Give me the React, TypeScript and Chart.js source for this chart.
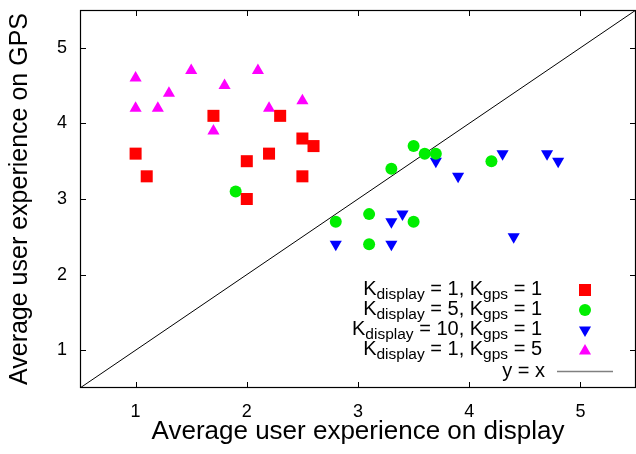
import React, { useEffect, useRef } from "react";
import { Chart, registerables } from "chart.js";
import { drawPoint } from "chart.js/helpers";

Chart.register(...registerables);

const FONT = '"Liberation Sans", Arial, Helvetica, sans-serif';

// Series: (display experience, GPS experience)
const S1_X = [1.0, 1.1, 1.7, 2.0, 2.0, 2.2, 2.3, 2.5, 2.6, 2.5];
const S1_Y = [3.6, 3.3, 4.1, 3.5, 3.0, 3.6, 4.1, 3.8, 3.7, 3.3];
const S2_X = [1.9, 3.5, 3.6, 3.7, 4.2, 3.3, 2.8, 3.1, 3.5, 3.1];
const S2_Y = [3.1, 3.7, 3.6, 3.6, 3.5, 3.4, 2.7, 2.8, 2.7, 2.4];
const S3_X = [3.7, 3.9, 4.3, 4.7, 4.8, 4.4, 3.4, 3.3, 2.8, 3.3];
const S3_Y = [3.5, 3.3, 3.6, 3.6, 3.5, 2.5, 2.8, 2.7, 2.4, 2.4];
const S4_X = [1.0, 1.0, 1.2, 1.3, 1.5, 1.8, 1.7, 2.1, 2.2, 2.5];
const S4_Y = [4.6, 4.2, 4.2, 4.4, 4.7, 4.5, 3.9, 4.7, 4.2, 4.3];

const IDENTITY = [0.5, 5.5];
const X_TICKS = [1, 2, 3, 4, 5];
const Y_TICKS = [1, 2, 3, 4, 5];
const AXIS_MIN = 0.5;
const AXIS_MAX = 5.5;

const LEGEND_KDISPLAY = ["1", "5", "10", "1"];
const LEGEND_KGPS = ["1", "1", "1", "5"];
const LINE_LABEL = "y = x";

const X_TITLE = "Average user experience on display";
const Y_TITLE = "Average user experience on GPS";

const COLORS = ["#ff0000", "#00ee00", "#0000ff", "#ff00ff"];
const STYLES = ["rect", "circle", "triangle", "triangle"];
const ROTATIONS = [0, 0, 180, 0];
const RADII = [8.5, 6, 7, 7];

const zip = (xs: number[], ys: number[]) => xs.map((x, i) => ({ x, y: ys[i] }));

const frameAndLegend = {
  id: "frameAndLegend",
  afterDraw(chart: any) {
    const ctx = chart.ctx;
    const { left, right, top, bottom } = chart.chartArea;
    const xs = chart.scales.x;
    const ys = chart.scales.y;
    ctx.save();
    ctx.strokeStyle = "#000";
    ctx.lineWidth = 1.2;
    ctx.strokeRect(left + 0.5, top + 0.5, right - left - 1, bottom - top - 1);
    ctx.lineWidth = 1;
    const tl = 6;
    ctx.beginPath();
    X_TICKS.forEach((v) => {
      const px = Math.round(xs.getPixelForValue(v)) + 0.5;
      ctx.moveTo(px, bottom);
      ctx.lineTo(px, bottom - tl);
      ctx.moveTo(px, top);
      ctx.lineTo(px, top + tl);
    });
    Y_TICKS.forEach((v) => {
      const py = Math.round(ys.getPixelForValue(v)) + 0.5;
      ctx.moveTo(left, py);
      ctx.lineTo(left + tl, py);
      ctx.moveTo(right, py);
      ctx.lineTo(right - tl, py);
    });
    ctx.stroke();

    // Legend
    const mainF = "20px " + FONT;
    const subF = "15.5px " + FONT;
    const textRight = right - 94;
    const symX = right - 51;
    ctx.fillStyle = "#000";
    ctx.textBaseline = "alphabetic";
    ctx.textAlign = "left";
    LEGEND_KDISPLAY.forEach((kd, i) => {
      const parts: [string, boolean][] = [
        ["K", false],
        ["display", true],
        [" = " + kd + ", K", false],
        ["gps", true],
        [" = " + LEGEND_KGPS[i], false],
      ];
      let w = 0;
      parts.forEach(([t, sub]) => {
        ctx.font = sub ? subF : mainF;
        w += ctx.measureText(t).width;
      });
      const base = bottom - 93 + i * 20;
      let x = textRight - w;
      parts.forEach(([t, sub]) => {
        ctx.font = sub ? subF : mainF;
        ctx.fillText(t, x, sub ? base + 4 : base);
        x += ctx.measureText(t).width;
      });
      ctx.fillStyle = COLORS[i];
      ctx.strokeStyle = COLORS[i];
      drawPoint(
        ctx,
        { pointStyle: STYLES[i], radius: RADII[i], rotation: ROTATIONS[i], borderWidth: 0 },
        symX,
        base - 5 + (i === 3 ? 1 : 0)
      );
      ctx.fillStyle = "#000";
    });
    ctx.font = mainF;
    ctx.textAlign = "right";
    ctx.fillText(LINE_LABEL, right - 91, bottom - 11);
    ctx.strokeStyle = "#808080";
    ctx.lineWidth = 1.5;
    ctx.beginPath();
    ctx.moveTo(right - 79, bottom - 16.5);
    ctx.lineTo(right - 23, bottom - 16.5);
    ctx.stroke();
    ctx.restore();
  },
};

const zeroPad = (s: any) => {
  s.paddingTop = 0;
  s.paddingBottom = 0;
  s.paddingLeft = 0;
  s.paddingRight = 0;
};

export default function App() {
  const ref = useRef<HTMLCanvasElement>(null);
  useEffect(() => {
    document.body.style.margin = "0";
    const canvas = ref.current!;
    const seriesX = [S1_X, S2_X, S3_X, S4_X];
    const seriesY = [S1_Y, S2_Y, S3_Y, S4_Y];
    const datasets: any[] = seriesX.map((xs, i) => ({
      type: "scatter",
      label: "K" + i,
      data: zip(xs, seriesY[i]),
      pointStyle: STYLES[i],
      pointRotation: ROTATIONS[i],
      pointRadius: RADII[i],
      pointHoverRadius: RADII[i],
      backgroundColor: COLORS[i],
      borderColor: COLORS[i],
      pointBorderWidth: 0,
      showLine: false,
    }));
    datasets.push({
      type: "line",
      label: LINE_LABEL,
      data: zip(IDENTITY, IDENTITY),
      borderColor: "#000",
      borderWidth: 1,
      pointRadius: 0,
      fill: false,
    });
    const chart = new Chart(canvas, {
      type: "scatter",
      data: { datasets },
      options: {
        animation: false,
        responsive: false,
        layout: { autoPadding: false, padding: { top: 10, right: 0, bottom: 0, left: 0 } },
        plugins: { legend: { display: false }, tooltip: { enabled: false } },
        scales: {
          x: {
            type: "linear",
            min: AXIS_MIN,
            max: AXIS_MAX,
            afterBuildTicks: (s: any) => {
              s.ticks = X_TICKS.map((v) => ({ value: v }));
            },
            afterFit: (s: any) => {
              s.height = 66;
              zeroPad(s);
            },
            grid: { display: false, drawTicks: false },
            border: { display: false },
            ticks: {
              padding: 13,
              color: "#000",
              font: { family: FONT, size: 18 },
              maxRotation: 0,
            },
            title: {
              display: true,
              text: X_TITLE,
              color: "#000",
              font: { family: FONT, size: 26 },
              padding: { top: 0, bottom: 7 },
            },
          },
          y: {
            type: "linear",
            min: AXIS_MIN,
            max: AXIS_MAX,
            afterBuildTicks: (s: any) => {
              s.ticks = Y_TICKS.map((v) => ({ value: v }));
            },
            afterFit: (s: any) => {
              s.width = 80;
              zeroPad(s);
            },
            grid: { display: false, drawTicks: false },
            border: { display: false },
            ticks: {
              padding: 13,
              color: "#000",
              font: { family: FONT, size: 18 },
            },
            title: {
              display: true,
              text: Y_TITLE,
              color: "#000",
              font: { family: FONT, size: 25 },
              padding: { top: 5, bottom: 0 },
            },
          },
        },
      } as any,
      plugins: [frameAndLegend],
    });
    return () => chart.destroy();
  }, []);
  return (
    <div style={{ width: 636, height: 454 }}>
      <canvas ref={ref} width={636} height={454} style={{ width: 636, height: 454, display: "block" }} />
    </div>
  );
}
